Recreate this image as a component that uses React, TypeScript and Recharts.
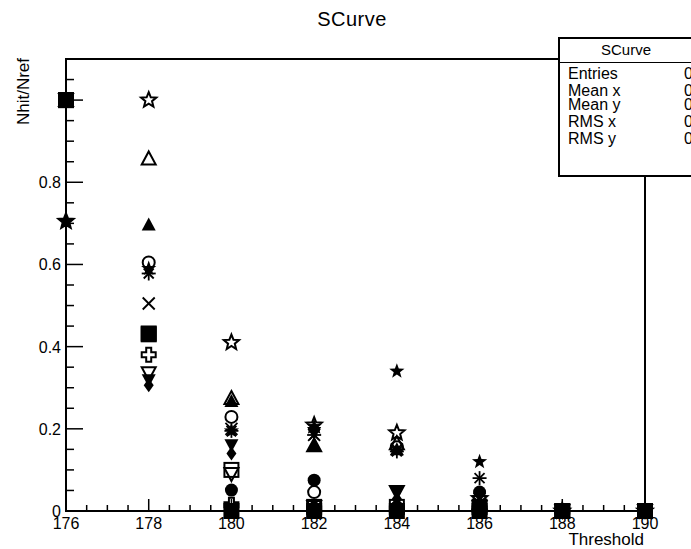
import React from 'react'
import { ScatterChart, Scatter, XAxis, YAxis, ReferenceArea } from 'recharts'

// threshold scan points
const thresholds = [176, 178, 180, 182, 184, 186, 188, 190]

// Nhit/Nref per channel, one array per marker style
const filledCircle = [1, 0.43, 0.051, 0.075, 0.01, 0.046, 0, 0]
const filledTriangleUp = [1, 0.697, 0.268, 0.16, 0.15, 0.02, 0, 0]
const filledTriangleDown = [1, 0.318, 0.16, 0.19, 0.045, 0.01, 0, 0]
const openCircle = [1, 0.605, 0.229, 0.046, 0.155, 0.03, 0, 0]
const openSquare = [1, 0.43, 0.1, 0.01, 0.01, 0.01, 0, 0]
const openTriangleUp = [1, 0.858, 0.275, 0.16, 0.165, 0.02, 0, 0]
const openCross = [1, 0.38, 0.015, 0.005, 0.005, 0.005, 0, 0]
const filledStar = [0.705, 0.59, 0.195, 0.205, 0.34, 0.12, 0, 0]
const openStar = [0.705, 1.0, 0.41, 0.209, 0.19, 0.03, 0, 0]
const openTriangleDown = [1, 0.335, 0.09, 0.01, 0.046, 0.01, 0, 0]
const filledDiamond = [1, 0.306, 0.14, 0.01, 0.03, 0.01, 0, 0]
const asterisk = [1, 0.578, 0.195, 0.185, 0.145, 0.08, 0, 0]
const xCross = [1, 0.505, 0.2, 0.185, 0.15, 0.03, 0, 0]
const filledSquare = [1, 0.432, 0, 0, 0, 0, 0, 0]

const series: [string, number[]][] = [
  ['filledCircle', filledCircle],
  ['filledTriangleUp', filledTriangleUp],
  ['filledTriangleDown', filledTriangleDown],
  ['openCircle', openCircle],
  ['openSquare', openSquare],
  ['openTriangleUp', openTriangleUp],
  ['openCross', openCross],
  ['filledStar', filledStar],
  ['openStar', openStar],
  ['openTriangleDown', openTriangleDown],
  ['filledDiamond', filledDiamond],
  ['asterisk', asterisk],
  ['xCross', xCross],
  ['filledSquare', filledSquare],
]

const xTicks = [176, 176.5, 177, 177.5, 178, 178.5, 179, 179.5, 180, 180.5, 181, 181.5, 182, 182.5, 183, 183.5, 184, 184.5, 185, 185.5, 186, 186.5, 187, 187.5, 188, 188.5, 189, 189.5, 190]
const xLabels = ['176', '178', '180', '182', '184', '186', '188', '190']
const yTicks = [0, 0.05, 0.1, 0.15, 0.2, 0.25, 0.3, 0.35, 0.4, 0.45, 0.5, 0.55, 0.6, 0.65, 0.7, 0.75, 0.8, 0.85, 0.9, 0.95, 1.0, 1.05]
const yMajor = [0, 0.2, 0.4, 0.6, 0.8, 1.0]
const yLabels = ['0', '0.2', '0.4', '0.6', '0.8', '']

const statNames = ['Entries', 'Mean x', 'Mean y', 'RMS x', 'RMS y']
const statValues = ['0', '0', '0', '0', '0']
const statCenters = [74, 91, 105, 122, 139]

const FONT = '"Liberation Sans", Arial, sans-serif'

function starPoints(cx: number, cy: number, ro: number, ri: number) {
  const pts: string[] = []
  for (let i = 0; i < 10; i++) {
    const r = i % 2 === 0 ? ro : ri
    const a = -Math.PI / 2 + (i * Math.PI) / 5
    pts.push(`${cx + r * Math.cos(a)},${cy + r * Math.sin(a)}`)
  }
  return pts.join(' ')
}

function Marker({ cx, cy, kind }: any) {
  if (cx == null || cy == null) return null
  const k = '#000'
  switch (kind) {
    case 'filledCircle':
      return <circle cx={cx} cy={cy} r={6.5} fill={k} />
    case 'filledSquare':
      return <rect x={cx - 8} y={cy - 8} width={16} height={16} fill={k} />
    case 'filledTriangleUp':
      return <polygon points={`${cx},${cy - 7} ${cx + 7},${cy + 6} ${cx - 7},${cy + 6}`} fill={k} />
    case 'filledTriangleDown':
      return <polygon points={`${cx},${cy + 7} ${cx + 7},${cy - 6} ${cx - 7},${cy - 6}`} fill={k} />
    case 'openCircle':
      return <circle cx={cx} cy={cy} r={6} fill="none" stroke={k} strokeWidth={2} />
    case 'openSquare':
      return <rect x={cx - 7} y={cy - 7} width={14} height={14} fill="none" stroke={k} strokeWidth={2} />
    case 'openTriangleUp':
      return <polygon points={`${cx},${cy - 7} ${cx + 7},${cy + 6} ${cx - 7},${cy + 6}`} fill="none" stroke={k} strokeWidth={2} />
    case 'openTriangleDown':
      return <polygon points={`${cx},${cy + 7} ${cx + 7},${cy - 6} ${cx - 7},${cy - 6}`} fill="none" stroke={k} strokeWidth={2} />
    case 'openCross': {
      const a = 7
      const b = 2.5
      const p = [
        [-b, -a], [b, -a], [b, -b], [a, -b], [a, b], [b, b], [b, a], [-b, a], [-b, b], [-a, b], [-a, -b], [-b, -b],
      ].map(([dx, dy]) => `${cx + dx},${cy + dy}`).join(' ')
      return <polygon points={p} fill="none" stroke={k} strokeWidth={2} />
    }
    case 'filledStar':
      return <polygon points={starPoints(cx, cy, 8, 3.3)} fill={k} />
    case 'openStar':
      return <polygon points={starPoints(cx, cy, 8, 3.5)} fill="none" stroke={k} strokeWidth={2} />
    case 'filledDiamond':
      return <polygon points={`${cx},${cy - 7} ${cx + 5},${cy} ${cx},${cy + 7} ${cx - 5},${cy}`} fill={k} />
    case 'asterisk':
      return (
        <g stroke={k} strokeWidth={1.8}>
          <line x1={cx - 7} y1={cy} x2={cx + 7} y2={cy} />
          <line x1={cx} y1={cy - 7} x2={cx} y2={cy + 7} />
          <line x1={cx - 5} y1={cy - 5} x2={cx + 5} y2={cy + 5} />
          <line x1={cx - 5} y1={cy + 5} x2={cx + 5} y2={cy - 5} />
        </g>
      )
    case 'xCross':
      return (
        <g stroke={k} strokeWidth={1.8}>
          <line x1={cx - 6} y1={cy - 6} x2={cx + 6} y2={cy + 6} />
          <line x1={cx - 6} y1={cy + 6} x2={cx + 6} y2={cy - 6} />
        </g>
      )
    default:
      return null
  }
}

function XTick({ x, y, payload }: any) {
  const v = payload.value
  const major = Math.abs(v % 2) < 1e-6
  const idx = Math.round((v - 176) / 2)
  return (
    <g>
      <line x1={x} y1={y} x2={x} y2={y - (major ? 12 : 6)} stroke="#000" strokeWidth={1.5} />
      {major && (
        <text x={x} y={y + 18} textAnchor="middle" fontSize={16} fontFamily={FONT} fill="#000">
          {xLabels[idx]}
        </text>
      )}
    </g>
  )
}

function YTick({ x, y, payload }: any) {
  const v = payload.value
  const mi = yMajor.findIndex((m) => Math.abs(m - v) < 1e-6)
  const major = mi >= 0
  return (
    <g>
      <line x1={x} y1={y} x2={x + (major ? 17 : 8)} y2={y} stroke="#000" strokeWidth={1.5} />
      {major && (
        <text x={x - 5} y={y + 6} textAnchor="end" fontSize={16} fontFamily={FONT} fill="#000">
          {yLabels[mi]}
        </text>
      )}
    </g>
  )
}

export default function App() {
  return (
    <div style={{ position: 'absolute', left: 0, top: 0, width: 691, height: 549, overflow: 'hidden', background: '#fff', fontFamily: FONT }}>
      <ScatterChart width={691} height={549} margin={{ top: 59, right: 46, bottom: 37, left: 65 }}>
        <XAxis
          type="number"
          dataKey="x"
          domain={[176, 190]}
          ticks={xTicks}
          interval={0}
          height={1}
          tickSize={0}
          tickMargin={0}
          tickLine={false}
          tick={<XTick />}
          axisLine={{ stroke: '#000', strokeWidth: 2 }}
        />
        <YAxis
          type="number"
          dataKey="y"
          domain={[0, 1.1]}
          ticks={yTicks}
          interval={0}
          width={1}
          tickSize={0}
          tickMargin={0}
          tickLine={false}
          tick={<YTick />}
          axisLine={{ stroke: '#000', strokeWidth: 2 }}
        />
        <ReferenceArea x1={176} x2={190} y1={0} y2={1.1} fill="none" stroke="#000" strokeWidth={2} ifOverflow="visible" />
        {series.map(([kind, vals]) => (
          <Scatter
            key={kind}
            data={thresholds.map((t, i) => ({ x: t, y: vals[i] }))}
            isAnimationActive={false}
            shape={(p: any) => <Marker cx={p.cx} cy={p.cy} kind={kind} />}
          />
        ))}
      </ScatterChart>
      <div style={{ position: 'absolute', left: 0, width: 704, top: 8, textAlign: 'center', fontSize: 20, letterSpacing: 0.5 }}>SCurve</div>
      <div
        style={{
          position: 'absolute',
          left: 15,
          top: 58,
          fontSize: 17,
          lineHeight: '18px',
          writingMode: 'vertical-rl',
          transform: 'rotate(180deg)',
          whiteSpace: 'nowrap',
        }}
      >
        Nhit/Nref
      </div>
      <div style={{ position: 'absolute', right: 47, top: 530, fontSize: 17 }}>Threshold</div>
      <div
        style={{
          position: 'absolute',
          left: 558,
          top: 37,
          width: 160,
          height: 136,
          border: '2px solid #000',
          background: '#fff',
        }}
      >
        <div style={{ position: 'absolute', left: 0, width: 132, top: 3, textAlign: 'center', fontSize: 15, lineHeight: '16px' }}>SCurve</div>
        <div style={{ position: 'absolute', left: 0, top: 23, width: 160, borderTop: '1.5px solid #000' }} />
        {statNames.map((n, i) => (
          <React.Fragment key={n}>
            <div style={{ position: 'absolute', left: 8, top: statCenters[i] - 46, fontSize: 16, lineHeight: '13px' }}>{n}</div>
            <div style={{ position: 'absolute', left: 124, top: statCenters[i] - 46, fontSize: 16, lineHeight: '13px' }}>{statValues[i]}</div>
          </React.Fragment>
        ))}
      </div>
    </div>
  )
}
